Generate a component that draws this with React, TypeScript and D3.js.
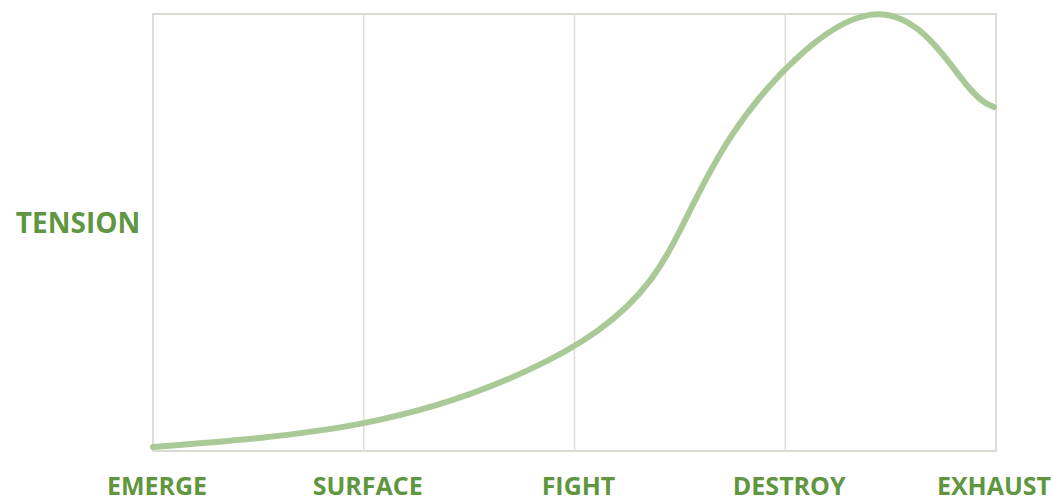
import React from "react";
import * as d3 from "d3";

const stages = ["EMERGE", "SURFACE", "FIGHT", "DESTROY", "EXHAUST"];
const curveStage = [0.0, 0.98, 1.78, 2.36, 2.75, 3.4, 3.83, 3.99];
const tension = [0.9, 6.2, 18.5, 39.1, 72.5, 99.8, 85.6, 78.7];
const yLabel = "TENSION";

export default function App() {
  const W = 1054, H = 502;
  const left = 153, right = 996, top = 14, bottom = 451;
  const x = d3.scaleLinear().domain([0, stages.length - 1]).range([left, right]);
  const y = d3.scaleLinear().domain([0, 100]).range([bottom, top]);
  const pts = curveStage.map((s, i) => [s, tension[i]] as [number, number]);
  const line = d3.line<[number, number]>().x(d => x(d[0])).y(d => y(d[1])).curve(d3.curveNatural);
  const labelColor = "#5f963f";
  return (
    <svg width={W} height={H} style={{ position: "absolute", left: 0, top: 0, background: "#fff" }}>
      <rect x={left} y={top} width={right - left} height={bottom - top} fill="none" stroke="#d6dccf" strokeWidth={2} />
      {stages.map((s, i) => (
        <line key={s} x1={x(i)} x2={x(i)} y1={top} y2={bottom} stroke="#dde1d9" strokeWidth={1.5} />
      ))}
      <path d={line(pts) || ""} fill="none" stroke="#a9c996" strokeWidth={6} strokeLinecap="round" />
      {stages.map((s, i) => (
        <text key={s} x={i === 0 ? x(i) + 4 : i === stages.length - 1 ? x(i) - 2 : x(i) + 4} y={495} textAnchor="middle"
          fontFamily="'Open Sans', sans-serif" fontWeight={700} fontSize={25} fill={labelColor}>{s}</text>
      ))}
      <text x={78} y={233} textAnchor="middle" fontFamily="'Open Sans', sans-serif" fontWeight={700} fontSize={28} fill={labelColor}>{yLabel}</text>
    </svg>
  );
}
